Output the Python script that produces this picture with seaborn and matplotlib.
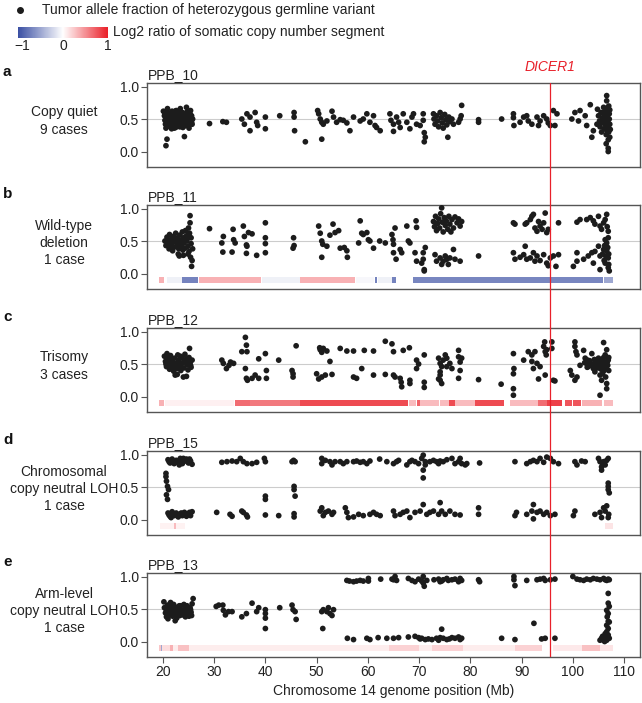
import numpy as np
import pandas as pd
import seaborn as sns
import matplotlib
matplotlib.use("Agg")
import matplotlib.pyplot as plt
from matplotlib.colors import LinearSegmentedColormap, Normalize
from matplotlib.cm import ScalarMappable
from matplotlib.transforms import blended_transform_factory

sns.set_theme(style="white")
plt.rcParams["font.family"] = ["Liberation Sans", "DejaVu Sans"]

# ---------------- data ----------------
panel_letters = ["a", "b", "c", "d", "e"]
panel_samples = ["PPB_10", "PPB_11", "PPB_12", "PPB_15", "PPB_13"]
panel_groups = ["Copy quiet\n9 cases", "Wild-type\ndeletion\n1 case", "Trisomy\n3 cases",
                "Chromosomal\ncopy neutral LOH\n1 case", "Arm-level\ncopy neutral LOH\n1 case"]
dicer1_pos = 95.6
x_ticks = [20, 30, 40, 50, 60, 70, 80, 90, 100, 110]
y_ticks = [0.0, 0.5, 1.0]

# (position Mb, tumor allele fraction)
a_points = [
    (20.1, 0.62), (20.3, 0.55), (20.4, 0.48), (20.5, 0.42), (20.6, 0.36), (20.6, 0.09), (20.8, 0.19), (20.9, 0.66),
    (21.0, 0.52), (21.1, 0.45), (21.2, 0.39), (21.4, 0.58), (21.5, 0.49), (21.6, 0.43), (21.7, 0.35), (21.8, 0.62),
    (21.9, 0.54), (22.0, 0.47), (22.1, 0.40), (22.2, 0.58), (22.3, 0.51), (22.4, 0.44), (22.5, 0.37), (22.6, 0.63),
    (22.7, 0.55), (22.8, 0.48), (22.9, 0.41), (23.0, 0.59), (23.1, 0.52), (23.2, 0.45), (23.3, 0.38), (23.4, 0.66),
    (23.5, 0.56), (23.6, 0.49), (23.7, 0.42), (23.8, 0.60), (23.9, 0.53), (24.0, 0.46), (24.1, 0.39), (24.2, 0.23),
    (24.3, 0.57), (24.4, 0.50), (24.5, 0.43), (24.6, 0.68), (24.7, 0.61), (24.8, 0.54), (24.9, 0.47), (25.0, 0.40),
    (25.1, 0.58), (25.2, 0.51), (25.3, 0.44), (25.4, 0.63), (25.5, 0.48), (25.6, 0.55), (25.7, 0.42), (25.8, 0.50),
    (20.4, 0.58), (20.7, 0.52), (21.0, 0.60), (21.3, 0.48), (21.6, 0.55), (22.0, 0.53), (22.4, 0.62), (22.6, 0.45),
    (23.0, 0.42), (23.3, 0.55), (23.7, 0.50), (24.0, 0.58), (24.3, 0.44), (24.6, 0.52), (25.0, 0.48), (25.3, 0.58),
    (25.6, 0.45), (21.2, 0.43), (22.9, 0.49), (24.8, 0.40), (20.8, 0.45), (22.2, 0.36), (23.9, 0.37), (25.1, 0.36),
    (29.1, 0.43), (31.7, 0.46), (32.4, 0.45),
    (35.4, 0.50), (35.9, 0.42), (36.4, 0.58), (37.0, 0.53), (37.0, 0.32), (38.0, 0.60), (38.3, 0.45), (38.5, 0.40),
    (40.0, 0.53), (40.0, 0.35), (42.8, 0.55), (45.6, 0.60), (45.6, 0.53), (45.7, 0.32), (47.8, 0.15),
    (50.2, 0.63), (50.4, 0.58), (50.7, 0.50), (51.0, 0.45), (51.0, 0.19), (51.3, 0.42), (52.0, 0.47), (53.0, 0.62),
    (53.3, 0.53), (53.9, 0.45), (54.6, 0.49), (55.2, 0.48), (55.9, 0.44), (56.5, 0.32), (57.2, 0.53), (58.5, 0.47),
    (59.1, 0.50), (59.8, 0.58), (60.4, 0.45), (61.1, 0.55), (61.4, 0.40), (61.7, 0.37), (62.4, 0.32),
    (64.3, 0.58), (65.0, 0.42), (65.0, 0.31), (65.6, 0.53), (66.3, 0.37), (66.9, 0.58), (67.6, 0.45), (68.2, 0.35),
    (68.6, 0.53), (68.9, 0.58), (69.5, 0.42), (70.2, 0.40), (70.8, 0.58), (71.0, 0.29), (71.0, 0.15), (71.2, 0.22),
    (70.8, 0.48), (64.5, 0.48), (66.0, 0.45),
    (72.8, 0.58), (72.9, 0.50), (73.1, 0.42), (73.4, 0.55), (73.6, 0.47), (73.8, 0.38), (74.1, 0.60), (74.3, 0.52),
    (74.5, 0.44), (74.7, 0.36), (75.0, 0.57), (75.2, 0.49), (75.4, 0.41), (75.6, 0.22), (75.8, 0.53), (76.0, 0.46),
    (76.7, 0.42), (77.7, 0.45), (78.0, 0.50), (78.3, 0.71), (78.2, 0.55), (76.4, 0.50),
    (81.6, 0.45), (81.6, 0.49), (86.1, 0.50),
    (88.4, 0.58), (88.4, 0.52), (88.5, 0.40), (89.7, 0.45), (90.4, 0.53), (91.3, 0.47), (92.0, 0.42), (93.0, 0.53),
    (93.6, 0.47), (94.3, 0.55), (94.9, 0.50), (95.2, 0.44), (95.6, 0.40), (96.2, 0.63), (96.5, 0.40), (96.9, 0.58),
    (91.0, 0.55), (93.3, 0.40),
    (99.8, 0.50), (100.4, 0.60), (101.1, 0.47), (101.4, 0.63), (102.4, 0.55), (102.7, 0.40), (103.4, 0.72),
    (103.7, 0.22), (104.0, 0.32), (104.7, 0.42),
    (104.8, 0.65), (105.0, 0.55), (105.2, 0.47), (105.3, 0.38), (105.5, 0.60), (105.6, 0.30), (105.8, 0.52),
    (105.9, 0.44), (106.0, 0.68), (106.1, 0.35), (106.2, 0.57), (106.3, 0.49), (106.4, 0.41), (106.5, 0.26),
    (106.6, 0.62), (106.6, 0.78), (106.7, 0.54), (106.8, 0.46), (106.9, 0.38), (106.9, 0.18), (107.0, 0.30),
    (107.0, 0.70), (107.1, 0.58), (107.1, 0.50), (107.2, 0.42), (107.2, 0.22), (106.6, 0.86), (106.9, 0.05),
    (106.9, 0.0), (106.5, 0.12), (107.3, 0.34),
    (105.6, 0.45), (106.0, 0.50), (106.4, 0.66), (106.8, 0.60), (107.2, 0.64), (106.6, 0.33), (105.9, 0.60),
]

b_points = [
    (20.4, 0.50), (20.6, 0.43), (20.8, 0.56), (21.0, 0.47), (21.2, 0.38), (21.3, 0.60), (21.5, 0.52), (21.7, 0.44),
    (21.9, 0.35), (22.0, 0.57), (22.2, 0.49), (22.4, 0.41), (22.5, 0.62), (22.7, 0.54), (22.9, 0.46), (23.0, 0.30),
    (23.1, 0.38), (23.3, 0.59), (23.5, 0.51), (23.6, 0.43), (23.8, 0.64), (24.0, 0.55), (24.1, 0.47), (24.3, 0.39),
    (24.4, 0.66), (24.6, 0.58), (24.7, 0.50), (24.9, 0.42), (24.9, 0.30), (25.0, 0.70), (25.1, 0.34), (25.2, 0.62),
    (25.3, 0.89), (25.3, 0.78), (25.4, 0.25), (25.5, 0.46), (25.6, 0.11), (25.7, 0.20), (25.8, 0.38), (23.2, 0.27),
    (24.0, 0.28), (20.7, 0.50), (21.4, 0.45), (22.1, 0.53), (22.8, 0.50), (23.4, 0.47), (24.2, 0.51), (24.8, 0.55),
    (21.8, 0.40), (23.9, 0.36), (25.5, 0.55),
    (29.1, 0.69), (31.5, 0.47), (31.7, 0.33), (31.8, 0.57), (33.5, 0.33), (33.7, 0.68), (33.8, 0.52), (34.1, 0.47),
    (35.7, 0.73), (35.9, 0.57), (36.3, 0.44), (36.4, 0.42), (36.3, 0.31), (36.7, 0.63), (37.4, 0.61), (38.3, 0.28),
    (40.0, 0.78), (40.0, 0.55), (40.0, 0.46), (40.0, 0.32),
    (45.5, 0.55), (45.6, 0.43), (45.4, 0.39),
    (50.4, 0.73), (50.7, 0.62), (51.0, 0.50), (51.2, 0.45), (51.0, 0.25), (52.0, 0.42), (52.6, 0.59), (53.2, 0.76),
    (53.6, 0.63), (54.3, 0.66), (54.6, 0.39), (55.4, 0.40), (55.9, 0.35), (56.0, 0.25),
    (58.2, 0.47), (58.5, 0.81), (58.8, 0.62), (59.1, 0.60), (59.8, 0.63), (60.1, 0.52), (60.4, 0.50), (61.1, 0.39),
    (62.3, 0.50), (63.4, 0.47), (64.7, 0.60), (64.9, 0.52), (65.0, 0.45), (65.3, 0.70), (65.0, 0.32), (65.5, 0.22),
    (66.3, 0.37), (66.6, 0.32),
    (67.6, 0.73), (67.9, 0.50), (68.2, 0.47), (69.2, 0.32), (69.4, 0.81), (69.5, 0.71), (69.5, 0.19), (70.5, 0.16),
    (70.8, 0.22), (71.2, 0.40), (71.0, 0.06), (71.0, 0.04), (70.8, 0.32),
    (72.8, 0.80), (73.0, 0.72), (73.2, 0.88), (73.4, 0.66), (73.6, 0.77), (73.8, 0.84), (74.0, 0.70), (74.2, 0.92),
    (74.4, 1.01), (74.5, 0.79), (74.7, 0.64), (74.9, 0.86), (75.1, 0.74), (75.3, 0.81), (75.6, 0.68), (75.8, 0.88),
    (76.0, 0.76), (76.4, 0.83), (76.7, 0.70), (77.0, 0.87), (77.4, 0.78), (77.7, 0.84), (78.0, 0.73), (78.3, 0.80),
    (76.2, 0.64),
    (73.1, 0.29), (73.4, 0.19), (74.1, 0.24), (74.7, 0.19), (75.1, 0.27), (75.4, 0.22), (76.0, 0.24), (76.7, 0.37),
    (77.0, 0.22), (78.0, 0.19), (75.7, 0.14), (74.4, 0.14),
    (81.6, 0.27),
    (88.4, 0.78), (88.7, 0.76), (90.7, 0.76), (91.0, 0.78), (91.7, 0.83), (92.0, 0.88), (92.3, 0.91), (92.6, 0.70),
    (93.0, 0.65), (93.6, 0.73), (94.3, 0.78), (94.6, 0.93), (94.9, 0.63), (95.2, 0.68), (97.2, 0.78), (93.3, 0.80),
    (94.0, 0.68),
    (88.4, 0.32), (88.7, 0.22), (89.7, 0.25), (90.4, 0.29), (90.7, 0.42), (91.0, 0.22), (91.7, 0.24), (92.3, 0.32),
    (93.0, 0.27), (93.6, 0.20), (94.3, 0.29), (94.9, 0.16), (95.2, 0.12), (95.6, 0.24), (96.2, 0.27), (96.7, 0.11),
    (97.2, 0.29), (92.6, 0.19),
    (100.8, 0.79), (101.4, 0.83), (102.7, 0.83), (103.4, 0.86), (104.0, 0.81), (104.3, 0.76), (105.0, 0.88),
    (105.3, 0.73), (106.0, 0.78), (106.3, 0.83), (106.6, 0.91), (106.9, 0.65), (106.9, 0.55), (106.7, 0.72),
    (105.6, 0.68),
    (100.1, 0.11), (100.8, 0.32), (100.8, 0.19), (102.1, 0.22), (103.0, 0.27), (103.7, 0.32), (104.0, 0.16),
    (104.3, 0.34), (105.0, 0.42), (105.3, 0.27), (105.3, 0.06), (106.0, 0.37), (106.3, 0.16), (106.6, 0.47),
    (106.9, 0.24), (106.9, 0.09), (107.1, 0.04), (106.3, 0.52), (105.8, 0.30), (106.1, 0.20), (106.6, 0.35),
    (107.0, 0.14), (106.8, 0.40), (106.4, 0.27), (107.0, 0.30), (106.2, 0.43),
]

c_points = [
    (20.3, 0.62), (20.5, 0.54), (20.7, 0.46), (20.9, 0.58), (21.1, 0.50), (21.3, 0.42), (21.5, 0.63), (21.7, 0.55),
    (21.9, 0.47), (22.1, 0.39), (22.3, 0.59), (22.5, 0.51), (22.7, 0.43), (22.9, 0.64), (23.1, 0.56), (23.3, 0.48),
    (23.5, 0.40), (23.7, 0.60), (23.9, 0.52), (24.1, 0.44), (24.3, 0.65), (24.5, 0.57), (24.7, 0.49), (24.9, 0.41),
    (25.1, 0.60), (25.2, 0.74), (25.3, 0.52), (25.5, 0.45), (25.7, 0.56), (22.4, 0.33), (22.8, 0.34), (24.0, 0.30),
    (24.6, 0.31), (20.8, 0.66), (20.6, 0.50), (21.2, 0.56), (21.8, 0.51), (22.4, 0.45), (23.0, 0.50), (23.6, 0.45),
    (24.2, 0.55), (24.8, 0.58), (25.4, 0.48), (21.5, 0.44), (23.4, 0.62), (25.0, 0.52),
    (31.5, 0.56), (31.8, 0.51), (32.4, 0.43), (32.9, 0.48), (33.2, 0.53), (33.8, 0.51),
    (35.4, 0.69), (36.1, 0.91), (36.3, 0.79), (36.4, 0.69), (36.1, 0.43), (36.3, 0.28), (36.5, 0.25), (37.4, 0.28),
    (38.0, 0.33), (38.7, 0.58), (38.7, 0.28), (40.0, 0.66), (40.2, 0.40), (40.2, 0.28), (42.6, 0.56),
    (45.2, 0.40), (45.4, 0.35), (45.4, 0.30), (46.0, 0.78),
    (50.6, 0.75), (50.7, 0.72), (51.0, 0.68), (51.3, 0.74), (52.0, 0.70), (50.0, 0.35), (50.4, 0.27), (51.0, 0.30),
    (51.7, 0.33), (52.6, 0.54), (53.0, 0.34),
    (54.6, 0.74), (55.9, 0.70), (57.2, 0.70), (57.8, 0.28), (57.2, 0.30), (58.8, 0.43), (59.3, 0.71), (61.1, 0.70),
    (61.1, 0.33), (63.4, 0.85), (63.4, 0.34), (64.7, 0.81), (65.0, 0.69), (65.3, 0.30), (65.0, 0.33), (66.3, 0.28),
    (66.5, 0.22), (66.6, 0.15), (66.9, 0.71), (68.1, 0.75), (68.2, 0.20), (68.2, 0.25), (69.5, 0.56), (69.9, 0.50),
    (69.5, 0.43), (71.0, 0.64), (71.0, 0.22), (71.0, 0.14),
    (73.8, 0.59), (74.1, 0.51), (74.4, 0.46), (74.1, 0.38), (74.7, 0.56), (75.1, 0.64), (73.8, 0.27), (74.1, 0.25),
    (75.4, 0.46), (75.4, 0.59), (76.0, 0.51), (76.4, 0.43), (77.7, 0.71), (77.7, 0.61), (78.0, 0.53), (78.0, 0.40),
    (77.7, 0.28), (78.3, 0.59), (74.1, 0.33), (74.4, 0.20),
    (81.6, 0.26), (86.0, 0.19),
    (88.4, 0.66), (88.5, 0.43), (88.4, 0.35), (88.4, 0.12), (88.4, 0.02), (90.4, 0.56), (91.3, 0.69), (92.0, 0.54),
    (92.3, 0.43), (92.6, 0.69), (93.0, 0.51), (93.3, 0.27), (94.3, 0.77), (94.5, 0.84), (94.6, 0.69), (94.8, 0.64),
    (94.6, 0.33), (94.9, 0.72), (95.9, 0.84), (95.9, 0.74), (96.2, 0.25), (96.5, 0.24), (93.6, 0.46), (92.0, 0.64),
    (99.5, 0.40), (99.8, 0.33), (100.4, 0.25), (100.8, 0.30), (100.4, 0.84), (100.4, 0.77), (100.6, 0.69),
    (100.8, 0.64), (101.4, 0.48), (102.1, 0.71), (102.4, 0.59), (102.7, 0.51), (103.0, 0.46), (103.7, 0.66),
    (104.0, 0.43), (104.3, 0.38), (104.7, 0.56), (105.0, 0.59), (105.3, 0.33), (105.6, 0.48), (106.0, 0.83),
    (106.3, 0.43), (106.6, 0.72), (106.6, 0.20), (106.6, 0.12), (105.3, 0.02), (106.3, 0.64), (106.9, 0.56),
    (105.6, 0.25),
    (102.3, 0.52), (102.8, 0.45), (103.3, 0.55), (103.8, 0.50), (104.2, 0.57), (104.6, 0.47), (105.1, 0.53),
    (105.5, 0.42), (105.9, 0.56), (106.2, 0.50), (106.5, 0.44), (106.8, 0.48), (107.0, 0.40), (105.8, 0.35),
    (106.4, 0.30), (107.0, 0.60), (106.0, 0.60), (105.2, 0.46),
    (103.5, 0.48), (104.4, 0.52), (105.4, 0.55), (106.1, 0.40), (106.7, 0.53), (104.9, 0.44), (102.9, 0.56),
]

d_points = [
    (21.0, 0.92), (21.4, 0.87), (21.8, 0.93), (22.2, 0.86), (22.6, 0.91), (23.0, 0.88), (23.4, 0.94), (23.8, 0.86),
    (24.2, 0.90), (24.6, 0.93), (25.0, 0.87), (25.4, 0.90), (25.7, 0.85), (22.0, 0.89), (24.0, 0.94), (23.2, 0.84),
    (21.2, 0.89), (22.4, 0.88), (23.6, 0.90), (24.8, 0.89), (25.2, 0.93),
    (31.5, 0.88), (32.5, 0.89), (33.5, 0.90), (34.4, 0.89), (35.1, 0.94), (35.7, 0.89), (36.4, 0.86), (37.4, 0.86),
    (38.3, 0.88), (39.8, 0.94), (40.0, 0.89), (45.5, 0.91), (45.8, 0.89), (45.2, 0.89),
    (51.0, 0.94), (51.0, 0.86), (51.7, 0.91), (52.6, 0.89), (53.0, 0.84), (53.6, 0.89), (54.6, 0.89), (55.2, 0.86),
    (55.9, 0.89), (57.2, 0.89), (57.8, 0.90), (58.5, 0.88), (59.1, 0.89), (59.8, 0.86), (60.4, 0.90), (62.3, 0.93),
    (63.7, 0.89), (65.0, 0.86), (65.6, 0.89), (66.0, 0.91), (67.6, 0.84), (68.2, 0.89), (68.6, 0.91), (69.2, 0.89),
    (69.9, 0.86), (70.5, 0.94), (70.8, 0.99), (71.2, 0.89), (71.2, 0.84), (70.8, 0.76), (70.8, 0.64),
    (72.1, 0.89), (72.8, 0.91), (73.4, 0.89), (73.8, 0.86), (74.1, 0.90), (74.7, 0.89), (75.4, 0.92), (76.4, 0.94),
    (77.0, 0.86), (77.7, 0.89), (78.0, 0.94), (78.3, 0.86), (79.0, 0.84), (79.3, 0.86), (81.8, 0.87),
    (88.7, 0.89), (91.0, 0.86), (91.7, 0.89), (92.3, 0.91), (93.0, 0.89), (93.6, 0.94), (94.3, 0.88), (94.9, 0.96),
    (95.6, 0.94), (96.2, 0.89), (97.2, 0.86), (100.4, 0.89), (100.8, 0.84), (101.7, 0.90), (102.4, 0.89),
    (105.0, 0.94), (105.3, 0.89), (105.6, 0.81), (105.6, 0.76), (106.0, 0.89), (106.3, 0.84), (106.6, 0.91),
    (106.9, 0.94), (105.8, 0.86),
    (20.6, 0.71), (20.6, 0.66), (20.7, 0.59), (20.9, 0.51), (21.1, 0.46), (20.7, 0.38), (20.9, 0.31), (45.6, 0.51),
    (45.6, 0.46), (45.8, 0.36), (40.0, 0.36), (40.0, 0.31), (106.9, 0.56), (106.9, 0.51), (106.9, 0.46),
    (107.1, 0.41),
    (21.0, 0.10), (21.4, 0.05), (21.8, 0.12), (22.2, 0.06), (22.6, 0.10), (23.0, 0.04), (23.4, 0.09), (23.8, 0.06),
    (24.2, 0.11), (24.6, 0.05), (25.0, 0.09), (25.4, 0.06), (25.7, 0.12), (22.0, 0.08), (24.0, 0.08), (21.6, 0.03),
    (21.2, 0.07), (22.4, 0.08), (23.6, 0.10), (24.8, 0.07), (25.2, 0.11),
    (30.5, 0.11), (33.1, 0.08), (33.5, 0.05), (35.4, 0.13), (35.7, 0.11), (36.3, 0.07), (36.5, 0.04), (40.0, 0.07),
    (42.6, 0.06), (45.6, 0.04), (45.6, 0.09),
    (50.7, 0.13), (51.0, 0.18), (51.3, 0.06), (51.7, 0.11), (52.3, 0.13), (53.0, 0.08), (53.3, 0.11), (55.6, 0.18),
    (55.9, 0.11), (56.2, 0.03), (57.2, 0.04), (58.2, 0.08), (59.1, 0.06), (60.4, 0.08), (61.1, 0.11), (61.7, 0.08),
    (62.4, 0.06), (65.0, 0.13), (65.3, 0.06), (66.3, 0.08), (66.9, 0.11), (67.6, 0.13), (68.2, 0.03), (69.2, 0.11),
    (70.2, 0.13), (70.8, 0.23), (71.5, 0.08), (72.1, 0.11), (72.8, 0.13), (73.8, 0.08), (74.1, 0.26), (74.4, 0.13),
    (75.1, 0.08), (76.0, 0.13), (77.0, 0.08), (78.0, 0.07), (81.6, 0.18), (81.6, 0.08),
    (88.7, 0.06), (89.0, 0.11), (91.0, 0.08), (92.0, 0.13), (92.3, 0.23), (92.3, 0.01), (93.0, 0.11), (93.6, 0.13),
    (94.3, 0.08), (94.9, 0.11), (95.6, 0.06), (96.5, 0.08), (100.1, 0.06), (100.4, 0.13), (104.3, 0.08),
    (105.3, 0.11), (105.6, 0.03), (106.0, 0.18), (106.3, 0.13), (106.6, 0.21), (106.9, 0.03), (107.0, 0.08),
]

e_points = [
    (55.9, 0.94), (56.4, 0.93), (57.2, 0.92), (57.8, 0.93), (58.5, 0.94), (59.1, 0.93), (60.1, 0.97), (60.1, 0.93),
    (62.5, 0.96), (64.7, 0.96), (65.0, 0.95), (65.3, 1.0), (65.6, 0.94), (67.9, 0.97), (68.6, 0.94), (69.2, 0.92),
    (69.9, 0.96), (70.5, 0.93), (70.8, 1.0), (70.8, 0.90), (71.0, 0.85), (71.5, 0.94), (73.8, 0.96), (74.1, 0.92),
    (74.7, 0.95), (75.4, 0.97), (75.7, 0.94), (76.4, 0.95), (77.0, 0.96), (77.7, 0.92), (78.0, 0.97), (78.3, 0.94),
    (81.6, 0.95), (81.8, 0.92), (88.5, 1.0), (88.7, 0.86), (88.5, 0.95), (91.0, 0.94), (93.0, 0.95), (93.6, 0.96),
    (94.3, 0.97), (94.6, 0.94), (95.6, 0.95), (96.5, 0.96), (100.0, 1.0), (100.8, 0.96), (101.4, 0.95),
    (102.1, 0.94), (102.7, 0.96), (103.4, 0.95), (104.0, 0.97), (104.7, 0.96), (105.3, 0.95), (106.0, 0.97),
    (106.3, 0.95), (106.6, 0.94), (106.9, 0.96), (107.1, 0.95), (74.4, 0.93), (72.9, 0.95),
    (20.2, 0.61), (20.3, 0.52), (20.5, 0.44), (20.7, 0.38), (20.9, 0.56), (21.1, 0.48), (21.3, 0.41), (21.5, 0.54),
    (21.7, 0.46), (21.9, 0.39), (22.1, 0.57), (22.3, 0.50), (22.5, 0.43), (22.7, 0.36), (22.9, 0.53), (23.1, 0.45),
    (23.3, 0.40), (23.5, 0.55), (23.7, 0.48), (23.9, 0.41), (24.1, 0.57), (24.3, 0.50), (24.5, 0.43), (24.7, 0.55),
    (24.9, 0.46), (25.1, 0.39), (25.3, 0.52), (25.5, 0.45), (25.7, 0.58), (25.9, 0.66), (21.0, 0.35), (22.4, 0.32),
    (21.5, 0.60), (20.6, 0.50), (21.2, 0.53), (21.8, 0.50), (22.4, 0.47), (23.0, 0.49), (23.6, 0.44), (24.2, 0.46),
    (24.8, 0.50), (25.4, 0.49), (23.2, 0.55), (24.4, 0.38), (25.6, 0.40),
    (30.4, 0.54), (30.9, 0.56), (31.7, 0.56), (31.8, 0.48), (32.2, 0.41), (32.8, 0.46), (33.5, 0.46), (35.4, 0.38),
    (36.3, 0.43), (37.4, 0.59), (38.3, 0.46), (38.7, 0.52), (40.0, 0.49), (40.0, 0.43), (40.0, 0.36), (40.0, 0.20),
    (42.8, 0.52), (45.2, 0.56), (45.4, 0.49), (45.8, 0.46), (46.0, 0.34), (51.0, 0.46), (51.2, 0.20), (51.3, 0.49),
    (52.0, 0.46), (52.6, 0.43), (53.0, 0.40), (53.3, 0.49), (52.3, 0.52),
    (106.9, 0.74), (106.9, 0.59), (107.1, 0.54), (106.6, 0.48), (106.9, 0.43), (106.7, 0.38), (107.1, 0.30),
    (106.6, 0.25), (106.9, 0.20), (106.6, 0.15), (106.3, 0.07), (105.6, 0.05), (105.3, 0.02), (106.0, 0.02),
    (106.6, 0.02), (107.1, 0.05), (106.9, 0.10), (106.3, 0.12), (106.9, 0.31), (105.8, 0.08), (106.2, 0.0),
    (56.0, 0.05), (57.2, 0.03), (59.8, 0.05), (60.4, 0.03), (62.0, 0.06), (63.7, 0.05), (65.0, 0.05), (66.0, 0.06),
    (67.9, 0.07), (69.2, 0.08), (69.9, 0.06), (70.5, 0.05), (71.2, 0.03), (71.8, 0.04), (72.5, 0.03), (73.4, 0.05),
    (73.8, 0.02), (74.1, 0.06), (74.4, 0.19), (74.7, 0.05), (75.4, 0.03), (76.4, 0.06), (77.0, 0.05), (77.7, 0.07),
    (78.0, 0.03), (78.3, 0.05), (86.1, 0.05), (88.7, 0.03), (92.4, 0.28), (93.9, 0.04), (94.6, 0.05), (96.5, 0.05),
    (70.2, 0.04), (75.9, 0.04),
]

# copy-number segments: start Mb, end Mb, log2 ratio
a_seg_start, a_seg_end, a_seg_log2 = [], [], []
b_seg_start = [19.3, 20.8, 23.8, 27.0, 39.4, 46.8, 57.6, 61.3, 61.9, 64.8, 68.8, 106.0]
b_seg_end = [20.3, 23.7, 26.8, 39.1, 46.7, 57.5, 61.1, 61.7, 64.7, 65.5, 105.8, 107.8]
b_seg_log2 = [0.35, -0.08, -0.7, 0.35, -0.08, 0.35, -0.04, -0.7, -0.08, -0.7, -0.68, -0.5]
c_seg_start = [19.3, 20.5, 34.0, 37.0, 46.8, 68.0, 69.5, 70.1, 74.1, 75.9, 77.0, 80.9, 87.8, 93.1, 95.0, 98.5, 100.0, 101.7, 106.0]
c_seg_end = [20.3, 33.8, 37.0, 46.8, 67.9, 69.4, 70.1, 73.9, 75.8, 77.0, 80.9, 86.6, 93.1, 95.0, 97.8, 99.8, 101.5, 105.6, 107.8]
c_seg_log2 = [0.35, 0.07, 0.65, 0.6, 0.8, 0.3, 0.7, 0.3, 0.3, 0.8, 0.3, 0.8, 0.3, 0.65, 0.85, 0.75, 0.75, 0.35, 0.3]
d_seg_start = [19.4, 22.2, 22.5, 106.3]
d_seg_end = [22.2, 22.5, 24.4, 107.8]
d_seg_log2 = [0.06, 0.3, 0.06, 0.12]
e_seg_start = [19.3, 19.6, 19.9, 21.4, 21.95, 23.0, 25.0, 64.2, 69.9, 72.5, 78.6, 88.7, 96.1, 101.7, 105.3]
e_seg_end = [19.6, 19.9, 21.3, 21.95, 23.0, 25.0, 64.2, 69.9, 72.5, 78.6, 88.7, 93.9, 101.7, 105.3, 107.8]
e_seg_log2 = [0.25, -0.5, 0.15, 0.35, 0.08, 0.28, 0.08, 0.2, 0.08, 0.2, 0.08, 0.2, 0.1, 0.28, 0.12]

panel_points = [a_points, b_points, c_points, d_points, e_points]
panel_segments = [(a_seg_start, a_seg_end, a_seg_log2), (b_seg_start, b_seg_end, b_seg_log2),
                  (c_seg_start, c_seg_end, c_seg_log2), (d_seg_start, d_seg_end, d_seg_log2),
                  (e_seg_start, e_seg_end, e_seg_log2)]

# ---------------- layout / style ----------------
W, H = 642, 703
def fx(px):
    return px / W
def fy(py):
    return 1 - py / H

cmap = LinearSegmentedColormap.from_list("cn", ["#3a4fa3", "#ffffff", "#ea1f28"])
norm = Normalize(-1, 1)
XLIM = (16.9, 113.1)
YLIM = (-0.238, 1.054)
SPINE = "#555555"
FS = 10

fig = plt.figure(figsize=(W / 100, H / 100), dpi=100)
tops = [83, 205, 328, 451, 573]
axh = 84
axes = []
for i in range(5):
    ax = fig.add_axes([fx(147), fy(tops[i] + axh), fx(493), axh / H])
    axes.append(ax)
    ax.axhline(0.5, color="#cccccc", lw=0.8, zorder=0)
    s0, s1, lv = panel_segments[i]
    if len(s0):
        ax.barh(y=-0.1, width=np.array(s1) - np.array(s0), left=s0, height=0.085,
                color=cmap(norm(np.array(lv))), linewidth=0, zorder=1)
    df = pd.DataFrame(panel_points[i], columns=["pos", "af"])
    sns.scatterplot(data=df, x="pos", y="af", ax=ax, s=17, color="#1c1c1c",
                    edgecolor="none", linewidth=0, legend=False, zorder=3)
    ax.set_xlim(*XLIM)
    ax.set_ylim(*YLIM)
    ax.set_yticks(y_ticks)
    ax.set_yticklabels([f"{v:.1f}" for v in y_ticks])
    ax.set_xlabel("")
    ax.set_ylabel("")
    for sp in ax.spines.values():
        sp.set_color(SPINE)
        sp.set_linewidth(1.0)
    ax.tick_params(axis="y", direction="out", length=4, width=0.8, color=SPINE,
                   labelsize=FS, pad=2, left=True, labelcolor="#222222")
    if i < 4:
        ax.set_xticks([])
    else:
        ax.set_xticks(x_ticks)
        ax.tick_params(axis="x", direction="out", length=4, width=0.8, color=SPINE,
                       labelsize=FS, pad=2, bottom=True, labelcolor="#222222")
        ax.set_xlabel("Chromosome 14 genome position (Mb)", fontsize=FS, color="#222222", labelpad=3)
    fig.text(fx(148), fy(tops[i] - 8), panel_samples[i], fontsize=FS, ha="left", va="center", color="#222222")
    fig.text(fx(3), fy(tops[i] - 11), panel_letters[i], fontsize=11, fontweight="bold",
             ha="left", va="center", color="#111111")
    fig.text(fx(64), fy(tops[i] + 38), panel_groups[i], fontsize=FS, ha="center", va="center",
             linespacing=1.3, color="#222222")

# DICER1 line across all panels
ov = fig.add_axes([fx(147), fy(tops[4] + axh), fx(493), (tops[4] + axh - tops[0]) / H])
ov.set_xlim(*XLIM)
ov.set_ylim(0, 1)
ov.axis("off")
ov.axvline(dicer1_pos, color="#e8202a", lw=0.9, zorder=5)
tr = blended_transform_factory(ov.transData, fig.transFigure)
ov.text(dicer1_pos, fy(67), "DICER1", transform=tr, color="#e8202a", fontsize=FS,
        style="italic", ha="center", va="center")

# legend
fig.add_artist(plt.Line2D([fx(20)], [fy(10)], marker="o", ms=4, color="#1c1c1c", lw=0,
                          transform=fig.transFigure))
fig.text(fx(42), fy(10), "Tumor allele fraction of heterozygous germline variant", fontsize=FS,
         ha="left", va="center", color="#222222")
cax = fig.add_axes([fx(18), fy(38), fx(90), 11 / H])
cb = fig.colorbar(ScalarMappable(norm=norm, cmap=cmap), cax=cax, orientation="horizontal")
cb.outline.set_visible(False)
cb.set_ticks([-0.9, 0, 1])
cb.set_ticklabels(["\u22121", "0", "1"])
cax.tick_params(length=0, labelsize=FS, pad=1, labelcolor="#222222")
fig.text(fx(113), fy(32), "Log2 ratio of somatic copy number segment", fontsize=FS,
         ha="left", va="center", color="#222222")

fig.savefig("out.png", dpi=100)
